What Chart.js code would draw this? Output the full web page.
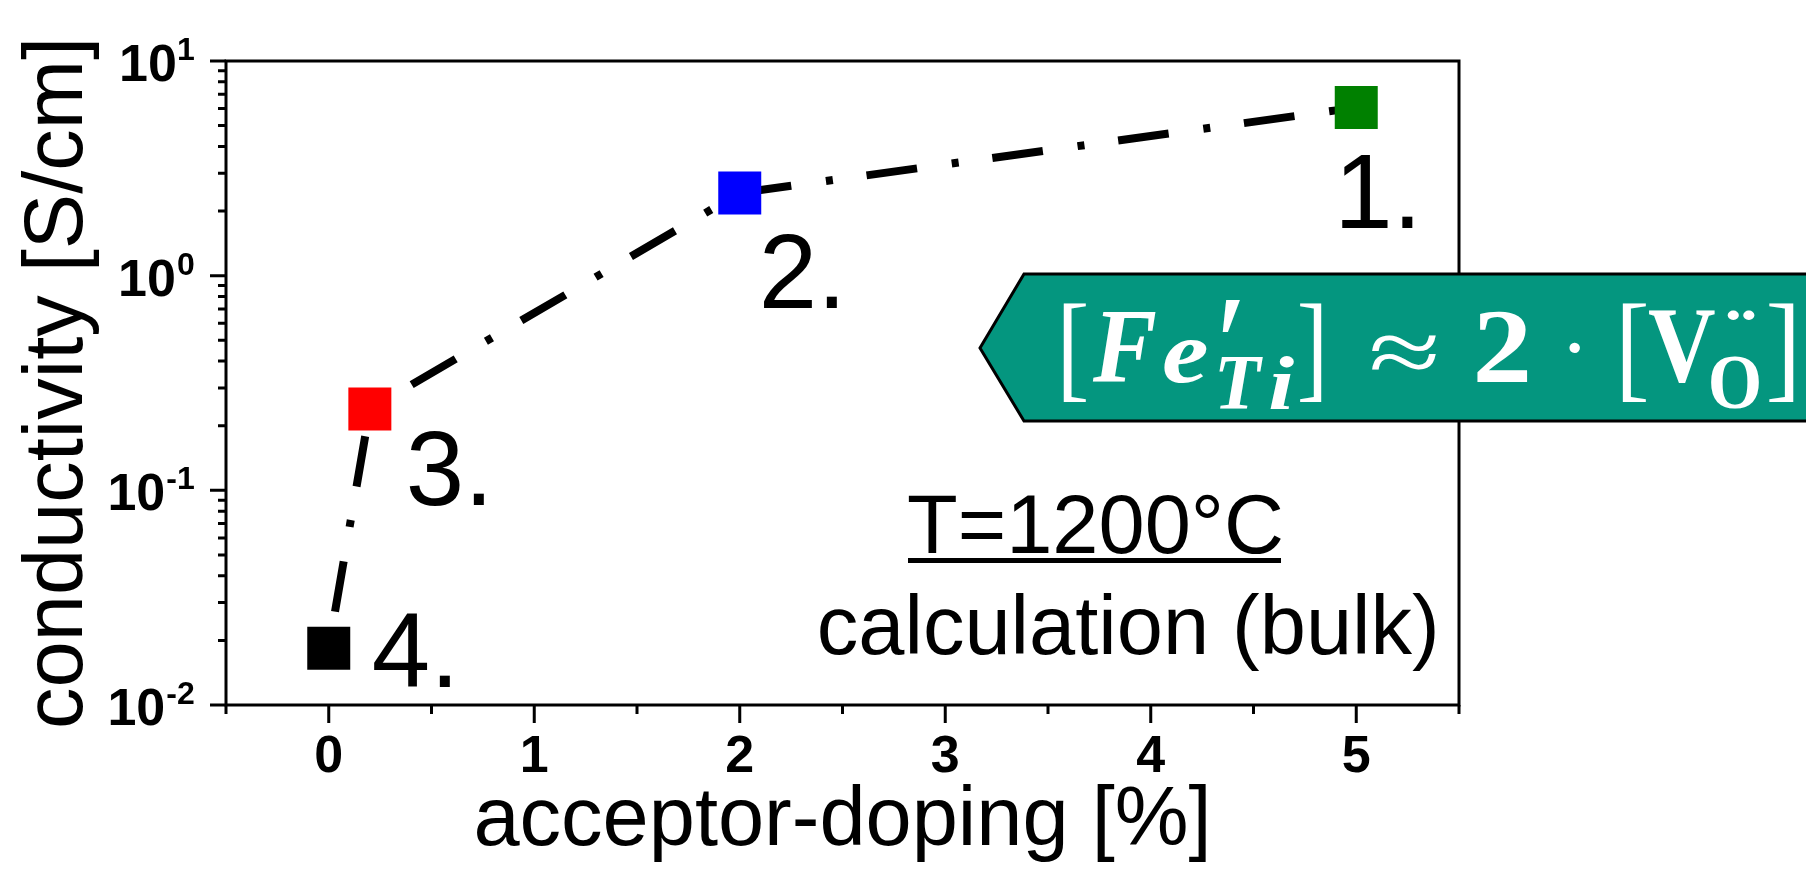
<!DOCTYPE html>
<html><head><meta charset="utf-8">
<script src="https://cdn.jsdelivr.net/npm/chart.js@4.4.1/dist/chart.umd.min.js"></script>
<style>html,body{margin:0;padding:0;background:#fff;overflow:hidden}canvas{display:block}</style>
</head><body>
<canvas id="c" width="1806" height="873"></canvas>
<script>
// ---- data ----
const dopingPercent = [0, 0.2, 2, 5];
const conductivity = [0.0184, 0.239, 2.43, 6.07];
const pointColors = ['#000000', '#ff0000', '#0000ff', '#008000'];
const pointLabels = ['4.', '3.', '2.', '1.'];
const xTickValues = [0, 1, 2, 3, 4, 5];
const xTickLabels = ['0', '1', '2', '3', '4', '5'];
const yTickValues = [0.01, 0.1, 1, 10];
const yTickExponents = ['-2', '-1', '0', '1'];
const xTitle = 'acceptor-doping [%]';
const yTitle = 'conductivity [S/cm]';
const noteTitle = 'T=1200°C';
const noteText = 'calculation (bulk)';

const SANS = '"Liberation Sans", Arial, sans-serif';
const SERIF = '"Liberation Serif", "Times New Roman", serif';

function inkLeftText(ctx, text, L, baseline, font) {
  ctx.font = font; ctx.textAlign = 'left'; ctx.textBaseline = 'alphabetic';
  const m = ctx.measureText(text);
  ctx.fillText(text, L + m.actualBoundingBoxLeft, baseline);
  return m;
}
function inkRightText(ctx, text, R, baseline, font) {
  ctx.font = font; ctx.textAlign = 'left'; ctx.textBaseline = 'alphabetic';
  const m = ctx.measureText(text);
  ctx.fillText(text, R - m.actualBoundingBoxRight, baseline);
  return m;
}
function fitText(ctx, text, font, x0, y0, x1, y1) {
  ctx.font = font; ctx.textAlign = 'left'; ctx.textBaseline = 'alphabetic';
  const m = ctx.measureText(text);
  const w = m.actualBoundingBoxLeft + m.actualBoundingBoxRight;
  const h = m.actualBoundingBoxAscent + m.actualBoundingBoxDescent;
  ctx.save();
  ctx.translate(x0, y0);
  ctx.scale((x1 - x0) / w, (y1 - y0) / h);
  ctx.fillText(text, m.actualBoundingBoxLeft, m.actualBoundingBoxAscent);
  ctx.restore();
}

const decorPlugin = {
  id: 'decor',
  afterDraw(chart) {
    const {ctx, chartArea: a, scales: {x, y}} = chart;
    ctx.save();
    ctx.fillStyle = '#000';
    ctx.strokeStyle = '#000';
    // frame
    ctx.lineWidth = 3;
    ctx.strokeRect(a.left, a.top, a.right - a.left, a.bottom - a.top);
    // x ticks (major at integers, minor at halves)
    ctx.beginPath();
    for (let k = 0; k <= 12; k++) {
      const v = x.min + k * 0.5;
      const px = x.getPixelForValue(v);
      const major = Math.abs(v - Math.round(v)) < 1e-9;
      ctx.moveTo(px, a.bottom); ctx.lineTo(px, a.bottom + (major ? 18 : 9));
    }
    // y ticks (log)
    for (let i = 0; i < yTickValues.length; i++) {
      const d = yTickValues[i];
      const py = y.getPixelForValue(d);
      ctx.moveTo(a.left, py); ctx.lineTo(a.left - 16, py);
      if (i < yTickValues.length - 1) {
        for (let m = 2; m <= 9; m++) {
          const p = y.getPixelForValue(d * m);
          ctx.moveTo(a.left, p); ctx.lineTo(a.left - 8, p);
        }
      }
    }
    ctx.stroke();
    // y tick labels 10^n
    for (let i = 0; i < yTickValues.length; i++) {
      const py = y.getPixelForValue(yTickValues[i]);
      ctx.font = 'bold 32px ' + SANS;
      const ms = ctx.measureText(yTickExponents[i]);
      const supL = 194 - (ms.actualBoundingBoxLeft + ms.actualBoundingBoxRight);
      inkRightText(ctx, yTickExponents[i], 194, py - 23 + ctx.measureText('1').actualBoundingBoxAscent, 'bold 32px ' + SANS);
      inkRightText(ctx, '10', supL - 4, py + 20, 'bold 52px ' + SANS);
    }
    // point labels
    const offs = [[45, 39], [40, 96], [24, 115], [-14, 120]];
    const pts = chart.getDatasetMeta(0).data;
    pts.forEach((p, i) => {
      inkLeftText(ctx, pointLabels[i], p.x + offs[i][0], p.y + offs[i][1], '105px ' + SANS);
    });
    // note
    const mt = inkLeftText(ctx, noteTitle, 908, 553, '83px ' + SANS);
    ctx.fillRect(908, 558, mt.actualBoundingBoxLeft + mt.actualBoundingBoxRight, 5);
    inkRightText(ctx, noteText, 1435, 654, '83px ' + SANS);
    // teal label box
    ctx.beginPath();
    ctx.moveTo(1024, 274); ctx.lineTo(1820, 274); ctx.lineTo(1820, 421);
    ctx.lineTo(1024, 421); ctx.lineTo(980, 348); ctx.closePath();
    ctx.fillStyle = '#04967f'; ctx.fill();
    ctx.lineWidth = 3; ctx.strokeStyle = '#000'; ctx.stroke();
    ctx.fillStyle = '#fff';
    const R = '120px ' + SERIF, BI = 'italic bold 105px ' + SERIF, B = 'bold 105px ' + SERIF;
    const glyphs = [
      ['[', R, 1063, 303, 1086, 402],
      ['F', BI, 1092, 311, 1156, 382],
      ['e', BI, 1164, 340, 1207, 383],
      ['\u2032', '90px ' + SERIF, 1222, 299, 1241, 332],
      ['T', BI, 1219, 356, 1263, 408],
      ['i', BI, 1270, 355, 1294, 409],
      [']', R, 1300, 303, 1322, 402],
      ['\u2248', '105px ' + SERIF, 1371, 335, 1436, 370],
      ['2', B, 1477, 310, 1527, 382],
      ['\u00b7', B, 1569, 342, 1580, 353],
      ['[', R, 1622, 303, 1646, 402],
      ['V', B, 1649, 310, 1715, 383],
      ['O', B, 1711, 355, 1759, 409],
      ['\u00a8', B, 1727, 309, 1755, 319],
      [']', R, 1769, 303, 1794, 402]
    ];
    glyphs.forEach(g => fitText(ctx, g[0], g[1], g[2], g[3], g[4], g[5]));
    ctx.restore();
  }
};

new Chart(document.getElementById('c'), {
  type: 'line',
  data: {
    datasets: [{
      data: dopingPercent.map((v, i) => ({x: v, y: conductivity[i]})),
      borderColor: '#000',
      borderWidth: 8,
      borderDash: [51, 35, 7, 34],
      borderDashOffset: 90,
      tension: 0,
      fill: false,
      pointStyle: 'rect',
      pointRadius: 30.4,
      pointHoverRadius: 30.4,
      pointBackgroundColor: pointColors,
      pointBorderColor: pointColors,
      pointBorderWidth: 0
    }]
  },
  options: {
    responsive: false,
    devicePixelRatio: 1,
    animation: false,
    events: [],
    layout: {padding: {left: 0, top: 61, right: 347, bottom: 0}},
    plugins: {legend: {display: false}, tooltip: {enabled: false}},
    scales: {
      x: {
        type: 'linear', min: -0.5, max: 5.5,
        afterFit: s => { s.height = 168; },
        afterBuildTicks: s => { s.ticks = xTickValues.map(v => ({value: v})); },
        ticks: {
          callback: v => { const i = xTickValues.indexOf(v); return i >= 0 ? xTickLabels[i] : ''; },
          font: {family: SANS, size: 52, weight: 'bold'}, color: '#000',
          padding: 21, maxRotation: 0, autoSkip: false
        },
        grid: {display: false, drawTicks: false},
        border: {display: false},
        title: {display: true, text: xTitle, color: '#000', font: {family: SANS, size: 83}, padding: {top: 0, bottom: 1}}
      },
      y: {
        type: 'logarithmic', min: 0.01, max: 10,
        afterFit: s => { s.width = 226; },
        ticks: {display: false},
        grid: {display: false, drawTicks: false},
        border: {display: false},
        title: {display: true, text: yTitle, color: '#000', font: {family: SANS, size: 83}, padding: {top: 9, bottom: 0}}
      }
    }
  },
  plugins: [decorPlugin]
});
</script>
</body></html>
